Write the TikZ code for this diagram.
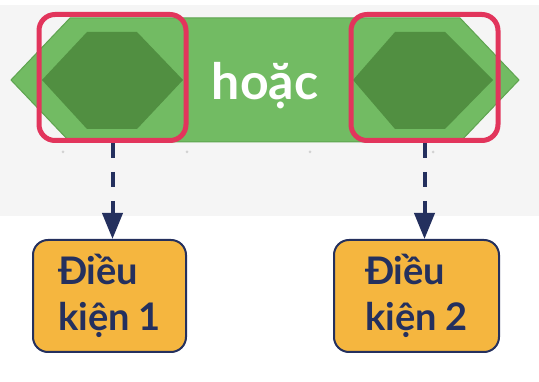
\documentclass[tikz,border=0pt]{standalone}
\usepackage{fontspec}
\setmainfont{Lato}
\usetikzlibrary{positioning,arrows.meta}
\definecolor{bggray}{HTML}{F5F5F5}
\definecolor{blockgreen}{HTML}{72BB63}
\definecolor{blockedge}{HTML}{5EA44F}
\definecolor{slotgreen}{HTML}{518F41}
\definecolor{markred}{HTML}{E2355C}
\definecolor{condorange}{HTML}{F5B63F}
\definecolor{navy}{HTML}{24305E}

\begin{document}
\begin{tikzpicture}[
  x=1pt, y=-1pt,
  mark box/.style={
    rectangle, draw=markred, line width=5pt, rounded corners=16pt,
    minimum width=147pt, minimum height=126pt
  },
  cond/.style={
    rectangle, draw=navy, line width=2pt, fill=condorange,
    rounded corners=15pt, minimum height=112pt, align=left,
    text=navy, font=\fontsize{38}{46}\selectfont\bfseries
  },
  slot/.style={fill=slotgreen},
  dot/.style={circle, fill=gray!35, inner sep=0pt, minimum size=3pt},
  arr/.style={navy, line width=4pt, dash pattern=on 15pt off 14pt,
    -{Triangle[width=20pt,length=26pt]}}
]
\useasboundingbox (0,0) rectangle (539,382);

% Background band
\fill[bggray] (0,5) rectangle (539,216);

% Green "or" block with its two slots
\filldraw[fill=blockgreen, draw=blockedge, line width=1pt]
  (11,80) -- (70,18) -- (460,18) -- (519,80) -- (460,142) -- (70,142) -- cycle;
\fill[slot] (42,80) -- (87,32) -- (137,32) -- (183,80) -- (137,129) -- (87,129) -- cycle;
\fill[slot] (353,80) -- (395,32) -- (445,32) -- (493,80) -- (445,129) -- (395,129) -- cycle;
\node[anchor=base, text=white, font=\fontsize{50}{50}\selectfont\bfseries]
  (label) at (265,100) {hoặc};

% Small dots under the block
\foreach \dx [count=\i] in {63,187,310,433}
  \node[dot] (dot\i) at (\dx,152) {};

% Highlight boxes
\node[mark box] (markL) at (112.5,77.5) {};
\node[mark box] (markR) at (424.5,77.5) {};

% Conditions
\node[cond, minimum width=153pt] (condL) at (109.5,296) {Điều\\kiện 1};
\node[cond, minimum width=165pt] (condR) at (416.5,296) {Điều\\kiện 2};

% Dashed arrows
\draw[arr] (markL.south) -- (markL.south |- condL.north);
\draw[arr] (markR.south) -- (markR.south |- condR.north);

\end{tikzpicture}
\end{document}
